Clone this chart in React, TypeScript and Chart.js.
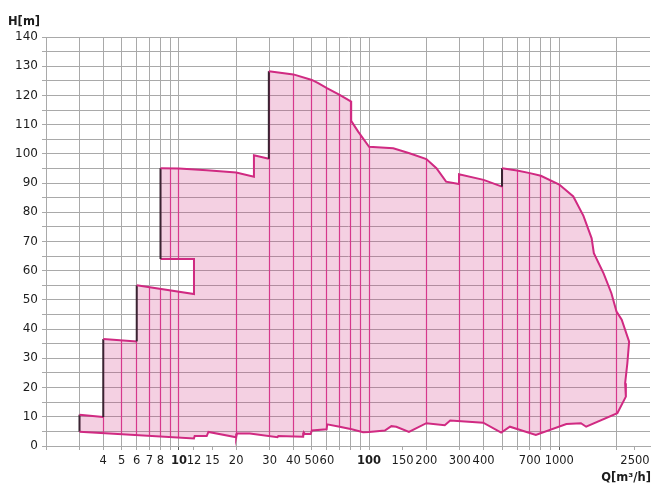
import React, { useEffect, useRef } from 'react';
import { Chart, registerables } from 'chart.js';

Chart.register(...registerables);

// Outline of the performance field, in drawing order (Q in m³/h, H in m)
const boundaryQ = [
  3, 3, 4, 4, 6, 6, 12, 12, 8, 8,
  10, 14, 20, 24.8, 24.8, 29.7, 29.7, 40, 50, 54,
  60, 70, 80.5, 80.5, 87.6, 100, 134, 163, 200, 226,
  254, 297, 297, 400, 500, 500, 600, 700, 800, 1000,
  1185, 1340, 1480, 1520, 1710, 1880, 2000, 2130, 2330, 2280,
  2220, 2240, 2020, 1385, 1300, 1090, 753, 550, 495, 398,
  267, 250, 200, 162, 139, 131, 121, 100, 93, 81,
  70, 60.2, 59.8, 50, 49.3, 46, 45.4, 45, 33.3, 33,
  23.6, 20.2, 20, 14.3, 14.0, 12.1, 12, 3,
];
const boundaryH = [
  4.9, 10.7, 9.9, 36.6, 35.8, 55, 52, 64, 64, 95.1,
  95.0, 94.4, 93.6, 92.2, 99.5, 98.3, 128.3, 127.2, 125.3, 124.2,
  122.5, 120.2, 117.9, 111.3, 107.6, 102.4, 101.9, 100.2, 98.2, 95.1,
  90.5, 89.7, 93.0, 91.1, 88.8, 95.1, 94.3, 93.4, 92.5, 89.5,
  85.4, 78.8, 71.1, 66.0, 59.1, 52.3, 46.0, 43.2, 35.7, 28.3,
  21.5, 16.9, 11.2, 6.6, 7.8, 7.5, 3.8, 6.6, 4.6, 8.0,
  8.7, 7.1, 7.8, 4.8, 6.6, 6.8, 5.3, 4.8, 4.7, 5.7,
  6.6, 7.4, 5.7, 5.3, 4.1, 4.1, 4.6, 3.2, 3.4, 3.0,
  4.3, 4.3, 3.0, 4.8, 3.4, 3.4, 2.6, 4.9,
];

// Vertical boundary edges drawn dark
const darkEdgeQ = [3, 4, 6, 8, 29.7, 500];

// Axis ticks
const xTickValues = [2, 3, 4, 5, 6, 7, 8, 9, 10, 12, 15, 20, 30, 40, 50, 60, 70, 80, 90, 100, 150, 200, 300, 400, 500, 600, 700, 800, 900, 1000, 2000, 2500];
const xLabelValues = [4, 5, 6, 7, 8, 10, 12, 15, 20, 30, 40, 50, 60, 100, 150, 200, 300, 400, 700, 1000, 2500];
const xNoGridValues = [12, 15, 150, 2500];
const xBoldLabels = [10, 100];
const dividerQ = [3, 4, 5, 6, 7, 8, 9, 10, 20, 30, 40, 50, 60, 70, 80, 90, 100, 200, 300, 400, 500, 600, 700, 800, 900, 1000, 2000];
const xMin = 2;
const xMax = 3000;
const yMin = 0;
const yMax = 140;
const yGridStep = 5;
const yLabelStep = 10;

const FONT = '"DejaVu Sans", sans-serif';
const GRID = '#a9a9a9';
const MAGENTA = '#d02a82';
const TEXT = '#1c1c1c';

export default function App() {
  const ref = useRef<HTMLCanvasElement | null>(null);

  useEffect(() => {
    if (!ref.current) return;
    const points = boundaryQ.map((q, i) => ({ x: q, y: boundaryH[i] }));

    const areaPlugin = {
      id: 'areaFill',
      beforeDatasetsDraw(chart: any) {
        const meta = chart.getDatasetMeta(0);
        const els = meta.data;
        const ctx = chart.ctx as CanvasRenderingContext2D;
        const xs = chart.scales.x;
        const area = chart.chartArea;
        ctx.save();
        ctx.beginPath();
        els.forEach((el: any, i: number) => {
          if (i === 0) ctx.moveTo(el.x, el.y);
          else ctx.lineTo(el.x, el.y);
        });
        ctx.closePath();
        ctx.fillStyle = 'rgba(205,40,125,0.22)';
        ctx.fill();
        ctx.clip();
        ctx.strokeStyle = '#d6388c';
        ctx.lineWidth = 1.2;
        dividerQ.forEach((q) => {
          const px = Math.round(xs.getPixelForValue(q) - 0.5) + 0.5;
          ctx.beginPath();
          ctx.moveTo(px, area.top);
          ctx.lineTo(px, area.bottom);
          ctx.stroke();
        });
        ctx.restore();
      },
      afterDraw(chart: any) {
        const ctx = chart.ctx as CanvasRenderingContext2D;
        ctx.save();
        ctx.fillStyle = TEXT;
        ctx.font = `bold 11.5px ${FONT}`;
        ctx.textBaseline = 'alphabetic';
        ctx.textAlign = 'left';
        ctx.fillText('H[m]', 8, 25);
        ctx.textAlign = 'right';
        ctx.fillText('Q[m³/h]', 651, 481);
        ctx.restore();
      },
    };

    const chart = new Chart(ref.current, {
      type: 'scatter',
      data: {
        datasets: [
          {
            data: points,
            showLine: true,
            fill: false,
            borderColor: MAGENTA,
            borderWidth: 2,
            pointRadius: 0,
            pointHoverRadius: 0,
            tension: 0,
            segment: {
              borderColor: (c: any) => {
                const a = c.p0.parsed;
                const b = c.p1.parsed;
                if (a && b && a.x === b.x && darkEdgeQ.includes(a.x)) return '#3a2432';
                return undefined;
              },
            },
          } as any,
        ],
      },
      options: {
        animation: false,
        responsive: true,
        maintainAspectRatio: false,
        events: [],
        layout: { padding: { top: 37, right: 1, left: 0, bottom: 0 } },
        plugins: {
          legend: { display: false },
          tooltip: { enabled: false },
          title: { display: false },
        },
        scales: {
          x: {
            type: 'logarithmic',
            min: xMin,
            max: xMax,
            afterBuildTicks: (scale: any) => {
              scale.ticks = xTickValues.map((v) => ({ value: v }));
            },
            afterFit: (scale: any) => {
              scale.height = 37;
              scale.paddingLeft = 0;
              scale.paddingRight = 0;
            },
            border: { display: true, color: GRID, width: 1 },
            grid: {
              color: (c: any) => (c.tick && xNoGridValues.includes(c.tick.value) ? 'rgba(0,0,0,0)' : GRID),
              tickColor: (c: any) => (c.tick && (c.tick.value === 10 || c.tick.value === 1000) ? '#555' : GRID),
              tickLength: 4,
              lineWidth: 1,
              drawTicks: true,
            },
            ticks: {
              autoSkip: false,
              maxRotation: 0,
              minRotation: 0,
              padding: 4,
              color: TEXT,
              font: (c: any) => ({
                family: FONT,
                size: 11.5,
                weight: c.tick && xBoldLabels.includes(c.tick.value) ? 'bold' : 'normal',
              }),
              callback: (v: any) => (xLabelValues.includes(Number(v)) ? String(v) : ''),
            },
          },
          y: {
            type: 'linear',
            min: yMin,
            max: yMax,
            afterFit: (scale: any) => {
              scale.width = 46;
            },
            border: { display: true, color: GRID, width: 1 },
            grid: {
              color: GRID,
              tickColor: GRID,
              tickLength: 4,
              lineWidth: 1,
            },
            ticks: {
              stepSize: yGridStep,
              autoSkip: false,
              padding: 4,
              color: TEXT,
              font: { family: FONT, size: 12 },
              callback: (v: any) => (Number(v) % yLabelStep === 0 ? String(v) : ''),
            },
          },
        },
      },
      plugins: [areaPlugin],
    } as any);

    return () => chart.destroy();
  }, []);

  return (
    <div style={{ position: 'absolute', left: 0, top: 0, width: 651, height: 483, background: '#fff' }}>
      <canvas ref={ref} />
    </div>
  );
}
